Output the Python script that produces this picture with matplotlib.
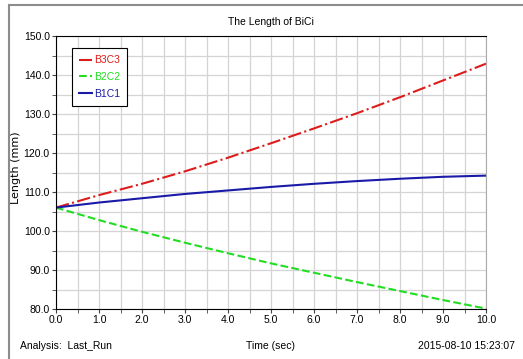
import numpy as np
import matplotlib.pyplot as plt
from matplotlib.lines import Line2D
from matplotlib.ticker import MultipleLocator

plt.rcParams['font.family'] = ['Liberation Sans', 'DejaVu Sans']

# data
t = [0.0, 1.0, 2.0, 3.0, 4.0, 5.0, 6.0, 7.0, 8.0, 9.0, 10.0]
b3c3 = [106.0, 109.2, 112.1, 115.3, 118.8, 122.5, 126.3, 130.2, 134.3, 138.6, 142.9]
b2c2 = [106.0, 102.8, 99.8, 97.0, 94.3, 91.7, 89.3, 86.9, 84.6, 82.3, 80.1]
b1c1 = [106.0, 107.3, 108.4, 109.5, 110.4, 111.3, 112.1, 112.8, 113.4, 113.9, 114.2]

fig = plt.figure(figsize=(5.23, 3.59), dpi=100)
ax = fig.add_axes([56/523, 1-309/359, 430/523, 273/359])

ax.plot(t, b3c3, color='#dd1c1c', ls='-.', lw=1.5, label='B3C3')
ax.plot(t, b2c2, color='#22dd22', ls='--', lw=1.5, label='B2C2')
ax.plot(t, b1c1, color='#1a1aa8', ls='-', lw=1.5, label='B1C1')

ax.set_xlim(0, 10)
ax.set_ylim(80, 150)
ax.xaxis.set_major_locator(MultipleLocator(1))
ax.xaxis.set_minor_locator(MultipleLocator(0.5))
ax.yaxis.set_major_locator(MultipleLocator(10))
ax.yaxis.set_minor_locator(MultipleLocator(5))
ax.xaxis.set_major_formatter('{x:.1f}')
ax.yaxis.set_major_formatter('{x:.1f}')
ax.grid(True, which='both', color='#d4d4d4', lw=0.9)
ax.tick_params(which='both', direction='out', length=3, labelsize=7.5, pad=1.5, color='#444444')
ax.spines['right'].set_color('#aaaaaa')

leg = ax.legend(loc='upper left', bbox_to_anchor=(0.037, 0.956), borderaxespad=0,
                fontsize=7.5, fancybox=False, edgecolor='black', framealpha=1,
                handlelength=1.2, handletextpad=0.2, labelspacing=0.65,
                borderpad=0.7)
leg.get_frame().set_linewidth(0.8)
for txt, ln in zip(leg.get_texts(), leg.get_lines()):
    txt.set_color(ln.get_color())

fig.text(271/523, 1-22/359, 'The Length of BiCi', ha='center', va='center', fontsize=7.5)
fig.text(16/523, 1-168/359, 'Length (mm)', ha='center', va='center', rotation=90,
         fontsize=8, family='DejaVu Sans')
fig.text(271/523, 1-346/359, 'Time (sec)', ha='center', va='center', fontsize=7.5)
fig.text(20/523, 1-346/359, 'Analysis:  Last_Run', ha='left', va='center', fontsize=7.5)
fig.text(515/523, 1-346/359, '2015-08-10 15:23:07', ha='right', va='center', fontsize=7.5)

# gray frame round the plot page
fig.add_artist(Line2D([9/523, 1], [1-5/359, 1-5/359], color='#8c8c8c', lw=1.5))
fig.add_artist(Line2D([9/523, 9/523], [0, 1-5/359], color='#8c8c8c', lw=1.5))

fig.savefig('out.png', dpi=100)
